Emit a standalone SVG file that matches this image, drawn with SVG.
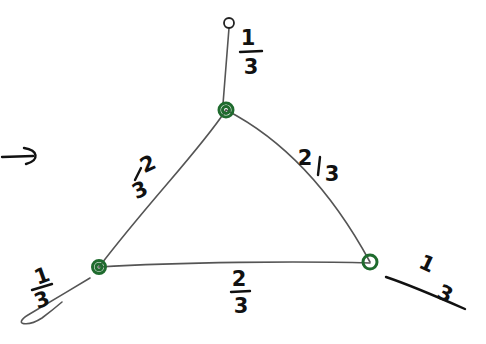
<svg xmlns="http://www.w3.org/2000/svg" width="486" height="344" viewBox="0 0 486 344">
<style>
.edge{fill:none;stroke:#555;stroke-width:1.6;stroke-linecap:round}
.ink{fill:none;stroke:#111;stroke-width:2.4;stroke-linecap:round;stroke-linejoin:round}
.node{fill:none;stroke:#1f6b2e;stroke-width:3}
.lbl{font-family:"DejaVu Sans","Liberation Sans",sans-serif;font-size:21px;font-weight:bold;fill:#111;text-anchor:middle}
</style>
<rect width="486" height="344" fill="#fff"/>
<g id="connectors">
<path class="edge" d="M226,110 C200,150 150,200 99,267"/>
<path class="edge" d="M226,110 C265,130 320,170 370,262"/>
<path class="edge" d="M99,267 C180,262 300,261 370,263"/>
<path class="edge" d="M229,28 L223,104"/>
<path class="edge" d="M90,278 C70,290 45,305 28,315 C12,325 28,327 42,318 C50,312 55,308 62,302"/>
</g>
<g id="arrow">
<path class="ink" d="M2,157 L33,156 M24,148 C38,150 40,160 26,164"/>
</g>
<g id="node-top">
<circle class="node" cx="226" cy="110" r="7"/>
<circle class="node" cx="226" cy="110" r="3.5"/>
<circle cx="229" cy="23" r="5" fill="none" stroke="#222" stroke-width="1.8"/>
<text class="lbl" x="248" y="45">1</text>
<path class="ink" d="M240,52 L262,51"/>
<text class="lbl" x="251" y="74">3</text>
</g>
<g id="node-left">
<circle class="node" cx="99" cy="267" r="6.5"/>
<circle class="node" cx="99" cy="267" r="3"/>
<text class="lbl" x="42" y="283" transform="rotate(-20 42 276)">1</text>
<path class="ink" d="M32,290 L52,284"/>
<text class="lbl" x="42" y="307" transform="rotate(-20 42 300)">3</text>
</g>
<g id="node-right">
<circle class="node" cx="370" cy="262" r="7"/>
<text class="lbl" x="428" y="271" transform="rotate(25 428 262)">1</text>
<path class="ink" d="M386,277 C410,285 440,298 465,309"/>
<text class="lbl" x="446" y="301" transform="rotate(25 446 292)">3</text>
</g>
<g id="edge-labels">
<text class="lbl" x="148" y="171" transform="rotate(-25 148 164)">2</text>
<path class="ink" d="M135,180 L141,168"/>
<text class="lbl" x="140" y="197" transform="rotate(-25 140 190)">3</text>
<text class="lbl" x="305" y="165">2</text>
<path class="ink" d="M320,157 L318,175"/>
<text class="lbl" x="332" y="181">3</text>
<text class="lbl" x="239" y="286">2</text>
<path class="ink" d="M231,292 L250,291"/>
<text class="lbl" x="241" y="313">3</text>
</g>
</svg>
